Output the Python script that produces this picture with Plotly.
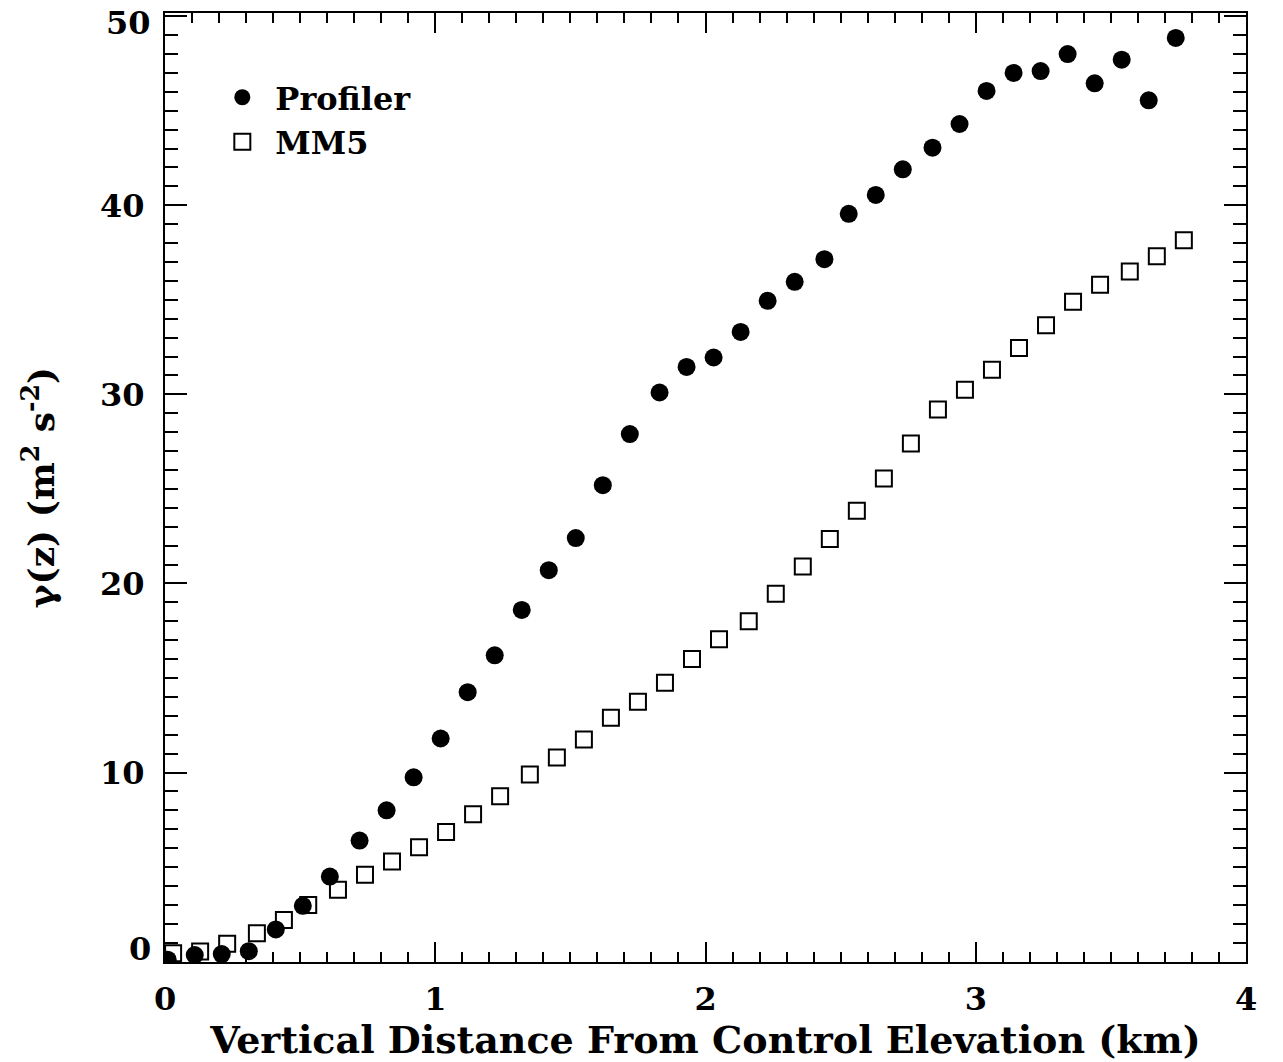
import plotly.graph_objects as go

# Vertical distance from the control elevation (km)
profiler_z = [0.01, 0.11, 0.21, 0.31, 0.41, 0.51, 0.61, 0.72, 0.82, 0.92,
              1.02, 1.12, 1.22, 1.32, 1.42, 1.52, 1.62, 1.72, 1.83, 1.93,
              2.03, 2.13, 2.23, 2.33, 2.44, 2.53, 2.63, 2.73, 2.84, 2.94,
              3.04, 3.14, 3.24, 3.34, 3.44, 3.54, 3.64, 3.74]
# gamma(z) from the profiler (m^2 s^-2)
profiler_gamma = [0.1, 0.35, 0.4, 0.55, 1.7, 2.95, 4.5, 6.4, 8.0, 9.75,
                  11.8, 14.25, 16.2, 18.6, 20.7, 22.4, 25.2, 27.9, 30.1, 31.45,
                  31.95, 33.3, 34.95, 35.95, 37.15, 39.55, 40.55, 41.9, 43.05, 44.3,
                  46.05, 47.0, 47.1, 48.0, 46.45, 47.7, 45.55, 48.85]

mm5_z = [0.03, 0.13, 0.23, 0.34, 0.44, 0.53, 0.64, 0.74, 0.84, 0.94,
         1.04, 1.14, 1.24, 1.35, 1.45, 1.55, 1.65, 1.75, 1.85, 1.95,
         2.05, 2.16, 2.26, 2.36, 2.46, 2.56, 2.66, 2.76, 2.86, 2.96,
         3.06, 3.16, 3.26, 3.36, 3.46, 3.57, 3.67, 3.77]
mm5_gamma = [0.44, 0.53, 0.94, 1.5, 2.2, 3.0, 3.8, 4.6, 5.3, 6.05,
             6.85, 7.8, 8.75, 9.9, 10.8, 11.75, 12.9, 13.75, 14.75, 16.0,
             17.05, 18.0, 19.45, 20.9, 22.35, 23.85, 25.55, 27.4, 29.2, 30.25,
             31.3, 32.45, 33.65, 34.9, 35.8, 36.5, 37.3, 38.15]

x_ticks = [0, 1, 2, 3, 4]
y_ticks = [0, 10, 20, 30, 40, 50]
y_tick_text = ["", "10", "20", "30", "40", ""]   # end labels are placed separately
y_end_labels = [0, 50]
y_end_shift = [13, -7]   # nudge end labels inside the frame height

FONT = "DejaVu Serif"
tick_font = dict(family=FONT, size=32, color="black", weight="bold")

fig = go.Figure()
fig.add_trace(go.Scatter(
    x=profiler_z, y=profiler_gamma, mode="markers", name="Profiler",
    marker=dict(symbol="circle", size=18, color="black", line=dict(width=0)),
))
fig.add_trace(go.Scatter(
    x=mm5_z, y=mm5_gamma, mode="markers", name="MM5",
    marker=dict(symbol="square-open", size=16, color="black", line=dict(width=2)),
))

axis_common = dict(
    showgrid=False, zeroline=False, showline=True, linecolor="black", linewidth=2,
    mirror="allticks", ticks="inside", tickcolor="black", tickwidth=2,
    ticklabeloverflow="allow", tickfont=tick_font,
)

fig.update_xaxes(
    range=[0, 4], tickvals=x_ticks, ticklen=20, ticklabelstandoff=8,
    minor=dict(dtick=0.1, ticks="inside", ticklen=10, tickwidth=2, tickcolor="black", showgrid=False),
    title=dict(text="Vertical Distance From Control Elevation (km)", standoff=4,
               font=dict(family=FONT, size=38, color="black", weight="bold")),
    **axis_common,
)
fig.update_yaxes(
    range=[-0.02, 50.17], tickvals=y_ticks, ticktext=y_tick_text,
    ticklen=22, ticklabelstandoff=12,
    minor=dict(dtick=1, ticks="inside", ticklen=13, tickwidth=2, tickcolor="black", showgrid=False),
    title=dict(text="γ(z) (m<sup>2</sup> s<sup>-2</sup>)", standoff=34,
               font=dict(family=FONT, size=36, color="black", weight="bold")),
    **axis_common,
)

for val, shift in zip(y_end_labels, y_end_shift):
    fig.add_annotation(
        x=0, xref="paper", y=val, yref="y", text=str(val), showarrow=False,
        xanchor="right", yanchor="middle", xshift=-12, yshift=shift,
        font=tick_font,
    )

fig.update_layout(
    width=1283, height=1062,
    margin=dict(l=165, r=37, t=13, b=100, autoexpand=False),
    paper_bgcolor="white", plot_bgcolor="white",
    legend=dict(x=0.041, y=0.94, xanchor="left", yanchor="top",
                bgcolor="rgba(0,0,0,0)", borderwidth=0, itemwidth=56,
                font=dict(family=FONT, size=32, color="black", weight="bold"),
                itemsizing="trace"),
)

fig.write_html("out.html")
